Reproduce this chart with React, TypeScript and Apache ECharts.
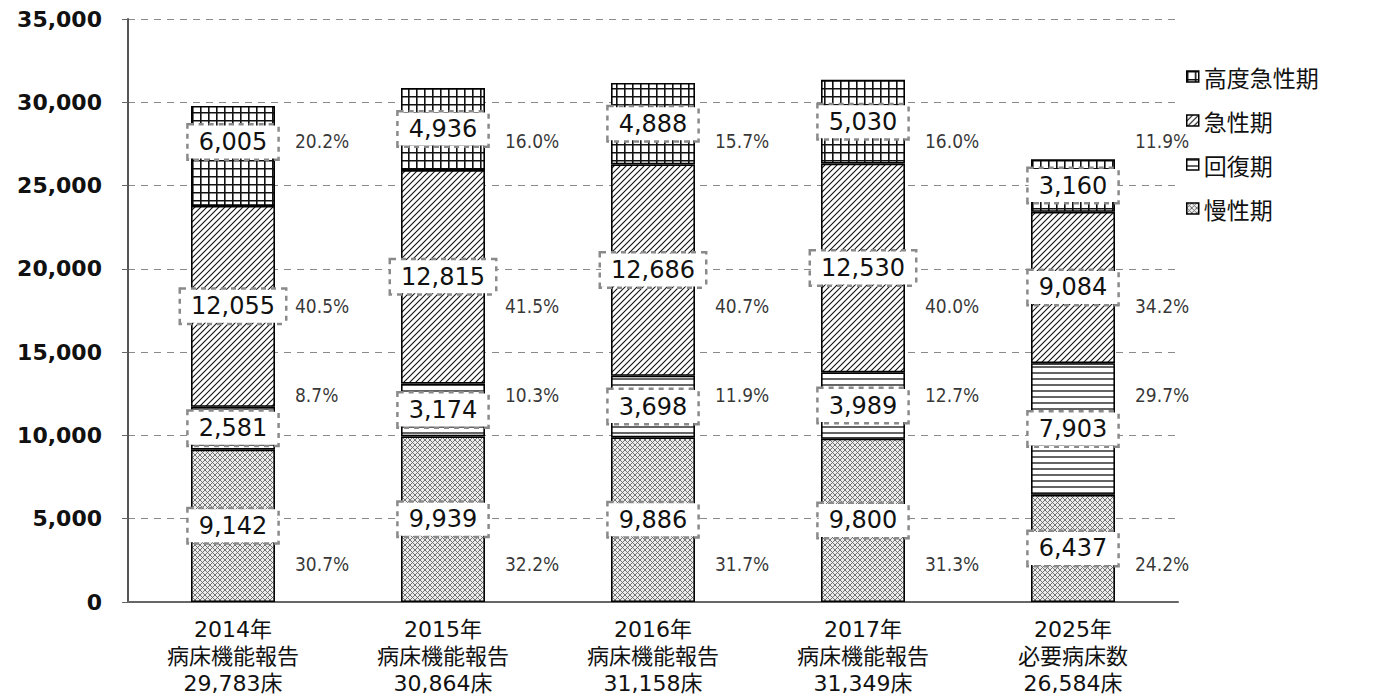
import React, { useEffect, useRef } from "react";
import * as echarts from "echarts";

// ---- data ----
const years = ["2014年", "2015年", "2016年", "2017年", "2025年"];
const sources = ["病床機能報告", "病床機能報告", "病床機能報告", "病床機能報告", "必要病床数"];
const totalsText = ["29,783床", "30,864床", "31,158床", "31,349床", "26,584床"];

const seriesNames = ["慢性期", "回復期", "急性期", "高度急性期"]; // bottom -> top
const chronic = [9142, 9939, 9886, 9800, 6437];
const recovery = [2581, 3174, 3698, 3989, 7903];
const acute = [12055, 12815, 12686, 12530, 9084];
const highAcute = [6005, 4936, 4888, 5030, 3160];

const yTicks = { min: 0, max: 35000, interval: 5000 };
const legendOrder = ["高度急性期", "急性期", "回復期", "慢性期"];

// rows (in axis units) where the percentage texts are written, per series
const pctRows = [2300, 12400, 17800, 27700];

type Kind = "grid" | "diag" | "horiz" | "diamond";

function makePattern(kind: Kind) {
  const size = kind === "grid" ? 8 : kind === "horiz" ? 6 : kind === "diag" ? 6 : 5;
  const c = document.createElement("canvas");
  c.width = size;
  c.height = size;
  const g = c.getContext("2d")!;
  g.fillStyle = kind === "diamond" ? "#ececec" : "#ffffff";
  g.fillRect(0, 0, size, size);
  g.strokeStyle = kind === "diamond" ? "#666" : "#111";
  if (kind === "grid") {
    g.lineWidth = 1.6;
    g.beginPath();
    g.moveTo(0.8, 0);
    g.lineTo(0.8, size);
    g.moveTo(0, 0.8);
    g.lineTo(size, 0.8);
    g.stroke();
  } else if (kind === "horiz") {
    g.lineWidth = 1.3;
    g.beginPath();
    g.moveTo(0, 1);
    g.lineTo(size, 1);
    g.stroke();
  } else if (kind === "diag") {
    g.lineWidth = 1.1;
    g.beginPath();
    g.moveTo(-1, size + 1);
    g.lineTo(size + 1, -1);
    g.moveTo(-1, 1);
    g.lineTo(1, -1);
    g.moveTo(size - 1, size + 1);
    g.lineTo(size + 1, size - 1);
    g.stroke();
  } else {
    g.lineWidth = 0.9;
    g.beginPath();
    g.moveTo(0, 0);
    g.lineTo(size, size);
    g.moveTo(size, 0);
    g.lineTo(0, size);
    g.stroke();
  }
  return { image: c, repeat: "repeat", imageWidth: size, imageHeight: size } as any;
}

const fmt = (v: number) => v.toLocaleString("en-US");

export default function App() {
  const ref = useRef<HTMLDivElement>(null);
  useEffect(() => {
    document.body.style.margin = "0";
    const chart = echarts.init(ref.current!, null, { renderer: "svg" });
    const values = [chronic, recovery, acute, highAcute];
    const kinds: Kind[] = ["diamond", "horiz", "diag", "grid"];
    const totals = chronic.map((_, i) => chronic[i] + recovery[i] + acute[i] + highAcute[i]);
    const categories = years.map((y, i) => `${y}\n${sources[i]}\n${totalsText[i]}`);

    const barSeries = values.map((arr, s) => ({
      name: seriesNames[s],
      type: "bar",
      stack: "beds",
      barWidth: 84,
      data: arr.map((v, i) =>
        s === 3 && i === 0 ? { value: v, label: { offset: [0, -14] } } : v
      ),
      itemStyle: { color: makePattern(kinds[s]), borderColor: "#000", borderWidth: 1.6 },
      label: {
        show: true,
        position: "inside",
        formatter: (p: any) => fmt(p.value),
        color: "#111",
        fontFamily: "DejaVu Sans",
        fontSize: 24,
        backgroundColor: "#fff",
        borderColor: "#8a8a8a",
        borderType: "dotted",
        borderWidth: 2.5,
        padding: [5, 10, 4, 10],
      },
      emphasis: { disabled: true },
      z: 2,
    }));

    const pctSeries = values.map((arr, s) => ({
      name: seriesNames[s] + "%",
      type: "scatter",
      symbolSize: 1,
      itemStyle: { color: "rgba(0,0,0,0)" },
      data: arr.map((v, i) => [i, pctRows[s], ((v / totals[i]) * 100).toFixed(1) + "%"]),
      label: {
        show: true,
        position: "inside",
        align: "left",
        offset: [62, 0],
        formatter: (p: any) => p.data[2],
        color: "#000",
        fontFamily: "Liberation Sans Narrow, DejaVu Sans Condensed, sans-serif",
        fontSize: 19,
      },
      emphasis: { disabled: true },
      z: 3,
    }));

    chart.setOption({
      animation: false,
      backgroundColor: "#fff",
      grid: { left: 128, right: 219, top: 19, bottom: 93 },
      legend: {
        data: legendOrder,
        orient: "vertical",
        left: 1181,
        top: 60,
        icon: "rect",
        itemWidth: 12,
        itemHeight: 11,
        itemGap: 21,
        selectedMode: false,
        itemStyle: { borderColor: "#000", borderWidth: 1.5 },
        textStyle: { fontSize: 23, color: "#111", fontFamily: "Noto Sans CJK JP" },
      },
      xAxis: {
        type: "category",
        data: categories,
        axisLine: { lineStyle: { color: "#666", width: 2 } },
        axisTick: { show: false },
        axisLabel: {
          color: "#111",
          fontSize: 22,
          lineHeight: 27,
          margin: 14,
          fontFamily: "DejaVu Sans, Noto Sans CJK JP",
          interval: 0,
        },
      },
      yAxis: {
        type: "value",
        min: yTicks.min,
        max: yTicks.max,
        interval: yTicks.interval,
        axisLine: { show: true, lineStyle: { color: "#555", width: 2 } },
        axisTick: { show: true, length: 6, lineStyle: { color: "#666" } },
        splitLine: { lineStyle: { color: "#8a8a8a", type: [7, 6], width: 1 } },
        axisLabel: {
          color: "#111",
          fontSize: 22,
          fontWeight: "bold",
          margin: 26,
          fontFamily: "DejaVu Sans",
          formatter: (v: number) => fmt(v),
        },
      },
      series: [...barSeries, ...pctSeries],
    });
    return () => chart.dispose();
  }, []);
  return <div ref={ref} style={{ width: 1397, height: 697 }} />;
}
